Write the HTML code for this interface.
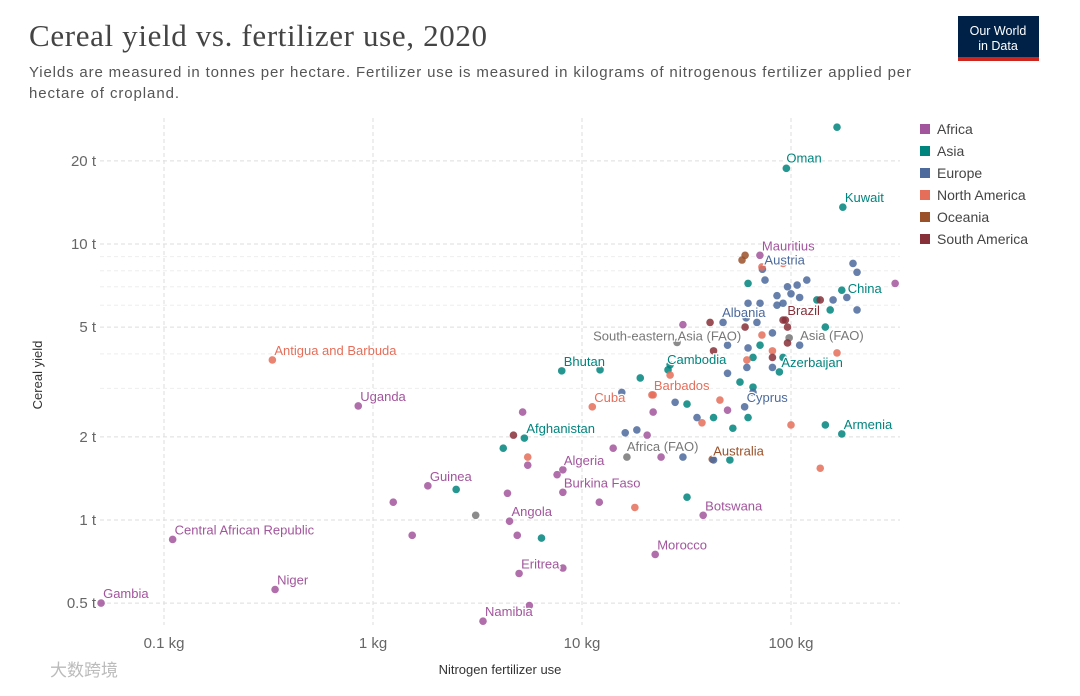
<!DOCTYPE html>
<html><head><meta charset="utf-8"><style>
body{margin:0;background:#fff;width:1080px;height:691px;overflow:hidden;font-family:"Liberation Sans",sans-serif}
</style></head><body>
<svg id="c" width="1080" height="691" xmlns="http://www.w3.org/2000/svg">
<text x="29" y="46" font-family="Liberation Serif,serif" font-size="31" textLength="458" fill="#444">Cereal yield vs. fertilizer use, 2020</text>
<text x="29" y="77" font-size="15" textLength="882" fill="#555">Yields are measured in tonnes per hectare. Fertilizer use is measured in kilograms of nitrogenous fertilizer applied per</text>
<text x="29" y="98" font-size="15" textLength="150" fill="#555">hectare of cropland.</text>
<g><rect x="958" y="16" width="81" height="43" fill="#002147"/><rect x="958" y="57" width="81" height="4" fill="#ce261e"/>
<text x="998" y="35" font-size="12.5" fill="#fff" text-anchor="middle">Our World</text><text x="998" y="50" font-size="12.5" fill="#fff" text-anchor="middle">in Data</text></g>
<text transform="translate(42,375) rotate(-90)" font-size="13" fill="#333" text-anchor="middle">Cereal yield</text>
<text x="500" y="674" font-size="13" fill="#333" text-anchor="middle">Nitrogen fertilizer use</text>
<text x="50" y="676" font-size="17" fill="#bbb" font-family="Liberation Sans,Noto Sans CJK SC,sans-serif">大数跨境</text>
<g id="grid"></g><g id="pts"></g><g id="lbl"></g><g id="leg"></g>
</svg>
<script>
const xTicks=[0.1,1,10,100];
const xTickLabels=["0.1 kg","1 kg","10 kg","100 kg"];
const yTicks=[0.5,1,2,5,10,20];
const yTickLabels=["0.5 t","1 t","2 t","5 t","10 t","20 t"];
const yMinor=[3,4,6,7,8,9];
const regions=["Africa","Asia","Europe","North America","Oceania","South America"];
const regionColors=["#A2559C","#00847E","#4C6A9C","#E56E5A","#9A5129","#883039"];
// [label, region index (-1 = aggregate), fertilizer kg, yield t]
const points=[
["Gambia",0,0.05,0.5],["Central African Republic",0,0.11,0.85],["Niger",0,0.34,0.56],["Guinea",0,1.83,1.33],
["Uganda",0,0.85,2.59],["Antigua and Barbuda",3,0.33,3.8],["Angola",0,4.5,0.99],["Eritrea",0,5.0,0.64],
["Namibia",0,3.36,0.43],["Algeria",0,8.1,1.52],["Burkina Faso",0,8.1,1.26],["Afghanistan",1,5.3,1.98],
["Bhutan",1,8.0,3.47],["Cuba",3,11.2,2.57],["Barbados",3,21.6,2.84],["Cambodia",1,26.4,3.65],
["Africa (FAO)",-1,16.4,1.69],["Morocco",0,22.4,0.75],["Botswana",0,38,1.04],["Australia",4,42,1.66],
["Cyprus",2,60,2.57],["Armenia",1,175,2.05],["Azerbaijan",1,88,3.44],["Asia (FAO)",-1,98,4.57],
["South-eastern Asia (FAO)",-1,28.5,4.4],["Brazil",5,94,5.3],["Albania",2,61,5.4],["China",1,175,6.8],
["Austria",2,73,8.1],["Mauritius",0,71,9.1],["Kuwait",1,177,13.6],["Oman",1,95,18.8],["",1,166,26.5],
["",4,58.3,8.75],["",4,60.3,9.1],["",3,72.6,8.26],["",3,91.6,8.5],["",1,62.3,7.2],["",2,75.1,7.4],["",2,119,7.4],
["",2,198,8.5],["",2,207,7.9],["",0,315,7.2],["",2,85.7,6.5],["",2,96.2,7.0],["",2,107,7.1],["",2,110,6.4],["",2,100,6.6],
["",1,133,6.27],["",5,138,6.27],["",2,159,6.27],["",2,185,6.4],["",1,154,5.77],["",2,207,5.77],["",2,62.3,6.1],["",2,71.1,6.1],
["",2,85.7,6.0],["",2,91.6,6.1],["",5,41,5.2],["",2,47.3,5.2],["",0,30.4,5.1],["",5,60.3,5.0],["",2,68.7,5.2],["",5,91.6,5.3],
["",5,96.2,5.0],["",2,81.5,4.76],["",3,72.6,4.68],["",1,146,5.0],["",5,96.2,4.38],["",2,110,4.3],["",2,49.7,4.3],["",2,62.3,4.2],
["",1,71.1,4.3],["",3,166,4.03],["",5,42.6,4.1],["",3,81.5,4.1],["",5,81.5,3.88],["",1,65.8,3.88],["",3,61.5,3.8],["",1,91.6,3.88],
["",2,49.7,3.4],["",2,61.5,3.57],["",2,81.5,3.57],["",1,19,3.27],["",1,25.8,3.5],["",3,26.4,3.35],["",1,57,3.16],["",1,65.8,3.03],
["",2,65.8,2.9],["",2,15.5,2.9],["",3,21.9,2.84],["",2,27.9,2.67],["",1,31.8,2.63],["",3,45.7,2.72],["",0,21.9,2.46],["",2,35.5,2.35],
["",3,37.5,2.25],["",1,42.6,2.35],["",0,49.7,2.5],["",1,52.7,2.15],["",1,62.3,2.35],["",3,100,2.21],["",1,146,2.21],["",2,16.1,2.07],
["",2,18.3,2.12],["",0,20.5,2.03],["",0,14.1,1.82],["",0,23.9,1.69],["",2,30.4,1.69],["",2,42.6,1.65],["",1,51,1.65],["",3,138,1.54],
["",0,5.2,2.46],["",5,4.7,2.03],["",1,4.2,1.82],["",3,5.5,1.69],["",0,5.5,1.58],["",0,7.6,1.46],["",1,2.5,1.29],["",0,1.25,1.16],
["",0,4.4,1.25],["",-1,3.1,1.04],["",0,1.54,0.88],["",0,4.9,0.88],["",1,6.4,0.86],["",0,8.1,0.67],["",0,5.6,0.49],["",0,12.1,1.16],
["",3,17.9,1.11],["",1,31.8,1.21],["",1,12.2,3.5]
];
const labelOffsets={"Asia (FAO)":[11,2],"South-eastern Asia (FAO)":[-84,-2],"Cambodia":[-3,-1],"Albania":[-24,-1],"China":[6,3],"Oman":[0,-6],"Africa (FAO)":[0,-6],"Australia":[1,-4],"Algeria":[1,-5],"Burkina Faso":[1,-5]};
const NS="http://www.w3.org/2000/svg";
const X0=373,XD=209,Y0=520,YD=276;
function sx(v){return X0+XD*Math.log10(v);}
function sy(v){return Y0-YD*Math.log10(v);}
function mk(t,a,p){const e=document.createElementNS(NS,t);for(const k in a)e.setAttribute(k,a[k]);p.appendChild(e);return e;}
const grid=document.getElementById('grid');
yMinor.forEach(v=>{const l=mk('line',{x1:100,x2:900,y1:sy(v),y2:sy(v),stroke:'#eee','stroke-dasharray':'4,3'},grid);

});
yTicks.forEach((v,i)=>{const l=mk('line',{x1:100,x2:900,y1:sy(v),y2:sy(v),stroke:'#ddd','stroke-dasharray':'4,3'},grid);


const t=mk('text',{x:96,y:sy(v)+5,'text-anchor':'end','font-size':15,fill:'#666'},grid);t.textContent=yTickLabels[i];

});
xTicks.forEach((v,i)=>{const l=mk('line',{x1:sx(v),x2:sx(v),y1:118,y2:625,stroke:'#ddd','stroke-dasharray':'4,3'},grid);


const t=mk('text',{x:sx(v),y:648,'text-anchor':'middle','font-size':15,fill:'#666'},grid);t.textContent=xTickLabels[i];

});
const pg=document.getElementById('pts'),lg=document.getElementById('lbl');
points.forEach(p=>{const col=p[1]<0?'#777':regionColors[p[1]];
const c=mk('circle',{cx:sx(p[2]),cy:sy(p[3]),r:3.8,fill:col,opacity:0.85},pg);


if(p[0]){const o=labelOffsets[p[0]]||[2,-5];
const t=mk('text',{x:sx(p[2])+o[0],y:sy(p[3])+o[1],'font-size':13,fill:col,stroke:'#fff','stroke-width':2.5,'paint-order':'stroke'},lg);
t.textContent=p[0];

}});
const leg=document.getElementById('leg');
regions.forEach((r,i)=>{const g=mk('g',{},leg);


mk('rect',{x:920,y:124+i*22,width:10,height:10,fill:regionColors[i]},g);
const t=mk('text',{x:937,y:134+i*22,'font-size':14,fill:'#444'},g);t.textContent=r;});
</script>
</body></html>
